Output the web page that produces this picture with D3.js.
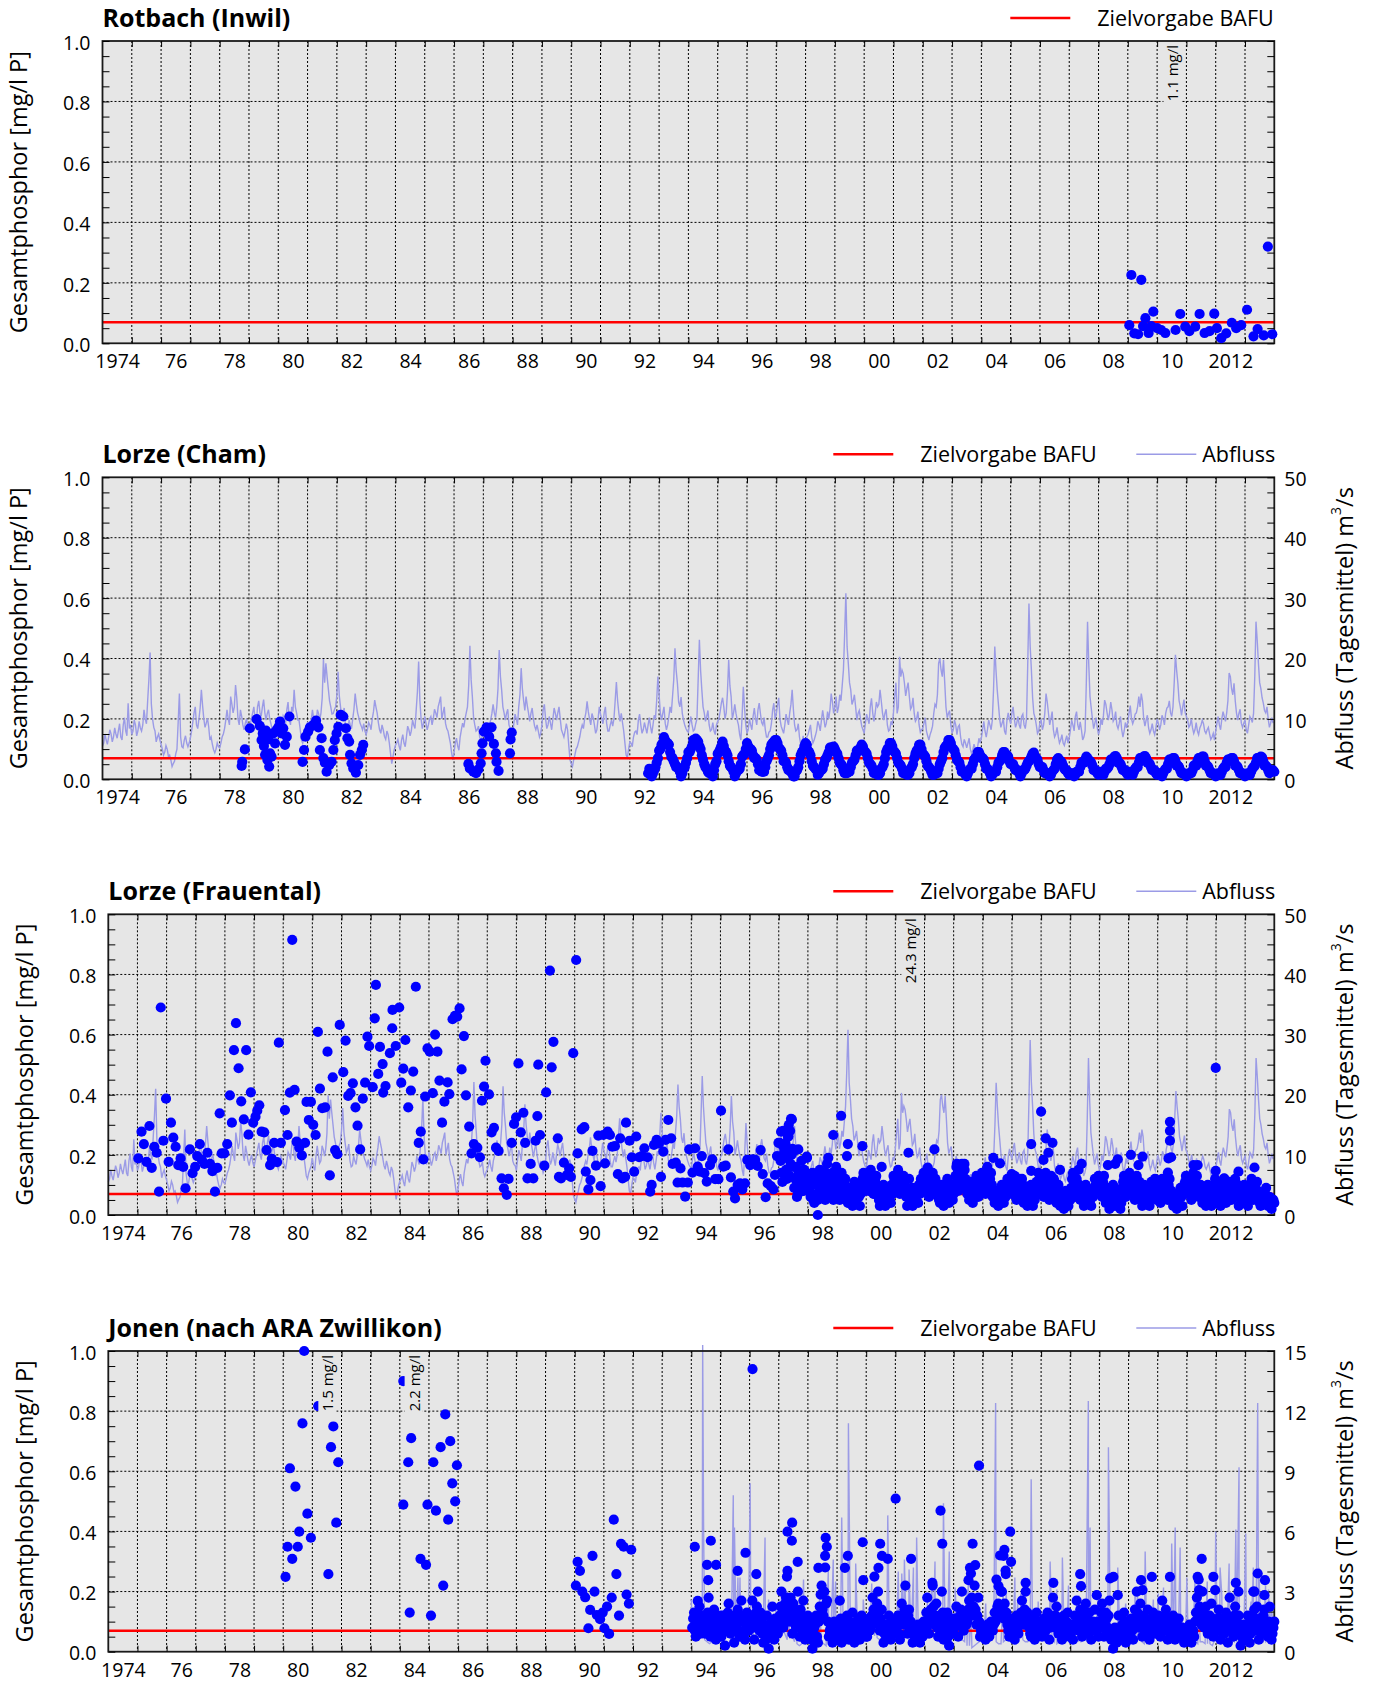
<!DOCTYPE html>
<html>
<head>
<meta charset="utf-8">
<script src="https://cdn.jsdelivr.net/npm/d3@7"></script>
<style>
    body { margin: 0; background: #fff; }
    svg { display: block; }
</style>
</head>
<body>
<svg id="chart" width="1375" height="1682"></svg>
<script>
// ---- achsen ----
var tickYears = [1974, 1976, 1978, 1980, 1982, 1984, 1986, 1988, 1990, 1992, 1994, 1996, 1998, 2000, 2002, 2004, 2006, 2008, 2010, 2012];
var tickLabels = ['1974', '76', '78', '80', '82', '84', '86', '88', '90', '92', '94', '96', '98', '00', '02', '04', '06', '08', '10', '2012'];
var phosTicks = [0, 0.2, 0.4, 0.6, 0.8, 1.0];
var lorzeFlowTicks = [0, 10, 20, 30, 40, 50];
var jonenFlowTicks = [0, 3, 6, 9, 12, 15];
var zielvorgabe = 0.07;

// ---- Rotbach (Inwil): [Jahr, mg/l P] ----
var rotbachP = [[2009.05, 0.06], [2009.12, 0.226], [2009.22, 0.033], [2009.35, 0.03], [2009.46, 0.21], [2009.52, 0.057], [2009.6, 0.083], [2009.71, 0.034], [2009.8, 0.057], [2009.87, 0.105], [2010.0, 0.05], [2010.14, 0.044], [2010.28, 0.034], [2010.63, 0.044], [2010.79, 0.097], [2010.96, 0.055], [2011.1, 0.04], [2011.3, 0.055], [2011.45, 0.097], [2011.62, 0.034], [2011.79, 0.04], [2011.95, 0.098], [2012.04, 0.05], [2012.19, 0.017], [2012.36, 0.033], [2012.55, 0.068], [2012.7, 0.05], [2012.87, 0.06], [2013.07, 0.111], [2013.29, 0.023], [2013.43, 0.047], [2013.64, 0.026], [2013.78, 0.32], [2013.93, 0.03]];
var rotbachOffscale = [[2010.55, '1.1 mg/l']];

// ---- Abfluss Lorze, Monatsmitte m3/s ab Jan 1974 ----
var lorzeFlow = [
    6, 6.5, 7, 7.5, 7, 7.5, 8, 7, 9, 8, 12.6, 9,
    8, 9, 8, 8.5, 9, 10, 13, 21, 10, 8, 7, 6.5,
    5, 4.5, 5, 4, 2.1, 3, 5, 14.2, 5.4, 6.5, 6, 6,
    8, 11, 9, 10, 14.8, 10, 9.3, 8.7, 7, 4.9, 5, 5.4,
    6, 7.5, 9.8, 10, 13.7, 11, 15.6, 10, 11.5, 9, 9.3, 8.7,
    9, 11, 10, 12, 11, 12, 11, 10.9, 10, 8.2, 8.5, 9.3,
    8.2, 9, 10, 11.5, 10, 12, 14.8, 11, 9.8, 6.5, 7, 8.2,
    8, 9.8, 10, 9, 10.9, 11, 19.9, 19.2, 15, 12, 10.9, 12,
    17.8, 12, 10.9, 9, 8.2, 9, 10, 14.2, 11, 9.3, 8.2, 8,
    8.2, 9, 10, 13.1, 11, 8.2, 9, 7.1, 8, 6, 2.6, 4.9,
    6, 5.5, 6.5, 6, 7, 8.2, 8, 9, 11.5, 19.5, 10, 9.3,
    9.3, 9, 10.4, 10, 11, 12, 13.7, 11, 9.3, 8, 6, 3.2,
    6, 5.5, 7, 9.3, 10, 12, 22.1, 13.7, 9, 8.2, 7, 7.1,
    8.2, 8, 9, 10.9, 11, 12, 21.4, 14.8, 11, 10.9, 9, 8.2,
    9.3, 10, 12, 18.4, 13, 13.7, 11, 10.9, 10, 8.2, 8, 7.6,
    11.5, 10, 9, 9.3, 10, 10.9, 11, 10, 7.6, 8, 8.2, 3.2,
    2.1, 4, 5.4, 7, 9, 10, 12.9, 10, 10.9, 9, 8.2, 12,
    10, 11, 9.3, 8, 9.8, 10, 16.1, 11, 10.9, 8, 4, 5,
    6, 7, 8, 9.8, 9, 8.2, 8.5, 9, 8.7, 9, 10, 17,
    11, 10.9, 9.3, 9, 12, 13.7, 21.7, 15.9, 12, 10.9, 9, 8,
    9.3, 9, 8.2, 10, 23.1, 14.8, 11, 10.4, 9, 8.2, 8, 9,
    10, 12.6, 12, 11, 19.8, 13.7, 11, 10.9, 9, 6.5, 15.3, 9,
    8.2, 9, 10.4, 10, 11.5, 10.9, 9, 8.2, 7, 8, 11.5, 10,
    12.3, 10, 8.2, 9, 9.8, 11, 14.8, 9, 8.2, 7, 6, 6,
    7, 8.2, 7, 6.5, 8, 9, 9.8, 10, 9.3, 10, 14.2, 10.9,
    13.7, 12, 13, 18.1, 30.8, 19.2, 14.8, 13, 12, 10.9, 10, 8.2,
    9.3, 10, 12, 11, 10.9, 12, 14.8, 11, 10.9, 9, 8.2, 9,
    13.7, 10.9, 20.3, 18.1, 15.9, 15, 13.7, 12, 10.9, 10, 9, 8.2,
    9.3, 8, 6.5, 8, 10.9, 12, 19.2, 18.1, 19.8, 12, 10.9, 9,
    8.2, 9, 8.7, 7, 5.4, 6, 6, 5, 4.9, 5, 5.4, 6,
    8.2, 8, 8.2, 9, 9.8, 22, 14.8, 10, 9.3, 8, 9.8, 10,
    10.9, 10, 9.3, 9, 10.4, 9, 10, 29.1, 18.1, 10.9, 9, 8,
    9.8, 9, 14.2, 10.9, 10, 8.2, 7.5, 7.1, 6.5, 6, 6.5, 6,
    8.2, 9, 10.4, 9, 9.5, 6.5, 8, 26.1, 13.7, 10, 9.3, 8.5,
    8.2, 9, 13.1, 11, 10.9, 11.5, 10, 9, 9.3, 8.2, 8, 8.5,
    10.9, 10, 9.8, 11, 13.7, 14.2, 10, 9.8, 8.5, 8.2, 8, 8.5,
    9.3, 9, 10, 10.9, 12, 11, 12, 20.6, 15.9, 12, 12, 11,
    9.8, 9, 8.5, 8.2, 8, 8.5, 9.8, 8, 8.2, 7.5, 7, 6.5,
    9.3, 9, 10, 10.4, 11, 17.6, 15, 15.9, 11, 10.9, 9.3, 9.3,
    8.2, 9, 10, 10.9, 26.1, 19.2, 15, 12.6, 11, 10, 9.3, 9.3
];
// Abfluss Lorze, Monatsanfang m3/s ab Jan 1974
var lorzeFlowMid = [
    5.5, 7.5, 5.8, 8.2, 6.2, 8.5, 6.8, 9.2, 6.5, 10.2, 7.2, 8.4,
    7.4, 9.8, 7.2, 9.6, 8.0, 11.5, 9.2, 16.5, 12.5, 8.6, 6.2, 7.5,
    5.8, 4.0, 5.6, 3.8, 3.2, 2.6, 4.2, 9.5, 7.0, 5.2, 7.2, 5.4,
    6.8, 9.5, 12.0, 8.4, 11.8, 12.2, 8.6, 10.1, 6.5, 5.8, 4.4, 6.0,
    5.2, 7.0, 8.4, 11.5, 9.0, 12.4, 12.0, 13.5, 9.0, 10.4, 8.2, 10.0,
    8.0, 10.0, 12.0, 9.2, 13.0, 10.4, 13.2, 9.8, 11.5, 9.2, 7.6, 9.8,
    8.8, 7.6, 10.5, 9.2, 12.8, 9.0, 11.2, 12.0, 9.8, 8.2, 6.0, 7.6,
    9.5, 7.4, 11.5, 8.6, 11.5, 9.8, 13.5, 16.0, 17.0, 13.0, 10.8, 11.5,
    14.0, 13.8, 10.4, 11.8, 8.0, 9.8, 8.4, 11.6, 12.4, 10.2, 8.8, 9.2,
    7.4, 9.4, 8.2, 11.2, 12.0, 9.4, 7.6, 8.2, 6.6, 7.4, 4.2, 3.8,
    5.6, 6.6, 4.8, 7.4, 5.4, 8.8, 7.2, 9.8, 8.4, 14.5, 13.0, 8.4,
    10.4, 8.2, 10.0, 9.0, 11.6, 10.2, 12.8, 10.0, 12.0, 8.4, 7.0, 4.4,
    4.4, 6.8, 4.8, 8.2, 8.6, 11.0, 15.5, 16.5, 10.2, 8.0, 8.8, 6.4,
    7.6, 9.2, 7.2, 9.8, 12.4, 10.2, 15.0, 17.0, 12.0, 9.8, 11.6, 8.4,
    7.4, 10.8, 9.0, 14.0, 15.0, 11.4, 12.2, 9.6, 11.8, 8.8, 9.0, 7.0,
    9.0, 12.4, 8.4, 10.4, 8.2, 11.8, 9.8, 12.0, 8.2, 7.0, 9.2, 5.6,
    2.6, 3.2, 5.0, 6.2, 8.2, 8.4, 11.0, 11.2, 9.0, 10.2, 7.6, 10.0,
    10.8, 9.2, 12.0, 8.0, 9.0, 8.8, 13.0, 13.0, 9.6, 9.4, 6.0, 3.6,
    6.2, 5.4, 7.8, 7.4, 10.8, 7.6, 9.4, 7.6, 10.2, 7.6, 10.6, 13.0,
    14.0, 9.8, 12.0, 8.2, 10.4, 11.0, 16.5, 18.0, 12.8, 13.6, 9.8, 8.4,
    7.8, 10.4, 8.0, 9.2, 16.5, 18.0, 12.0, 9.6, 11.4, 8.0, 9.4, 7.4,
    9.6, 11.2, 13.5, 10.0, 14.5, 15.5, 10.0, 12.4, 9.8, 7.4, 10.5, 11.8,
    7.6, 10.0, 8.2, 11.8, 9.0, 12.6, 9.4, 10.2, 7.0, 7.8, 9.2, 12.6,
    10.8, 13.5, 8.8, 7.6, 10.8, 9.0, 12.4, 11.6, 8.0, 9.2, 5.8, 7.2,
    5.6, 7.4, 9.0, 6.0, 7.2, 9.6, 8.0, 11.4, 8.6, 11.2, 11.6, 12.8,
    12.0, 11.0, 14.0, 15.5, 24.0, 22.0, 16.0, 12.4, 14.0, 9.8, 11.4, 8.8,
    7.6, 10.8, 9.2, 13.4, 9.6, 12.8, 12.4, 13.0, 9.8, 11.6, 8.0, 9.6,
    11.0, 16.0, 12.0, 17.0, 17.5, 13.8, 16.0, 11.6, 13.5, 9.6, 11.2, 7.8,
    8.4, 10.2, 7.2, 7.4, 8.8, 12.4, 14.0, 20.0, 17.0, 16.0, 10.2, 11.4,
    7.6, 9.8, 7.4, 9.0, 5.8, 6.6, 5.2, 6.8, 4.2, 5.8, 4.4, 6.8,
    6.8, 9.6, 7.0, 9.8, 8.2, 15.0, 18.0, 12.4, 8.6, 10.0, 7.4, 11.0,
    9.2, 12.0, 8.6, 10.4, 8.4, 10.8, 8.4, 19.0, 22.0, 13.5, 10.2, 7.6,
    9.4, 8.2, 11.0, 12.8, 9.0, 11.2, 7.0, 8.6, 6.0, 7.4, 5.6, 7.2,
    6.8, 9.8, 8.0, 11.2, 8.2, 8.2, 7.0, 16.0, 19.0, 11.8, 8.4, 10.2,
    7.4, 10.0, 10.5, 12.4, 9.8, 12.8, 9.6, 11.2, 8.4, 10.4, 7.0, 9.4,
    9.4, 12.2, 9.2, 10.8, 12.0, 12.0, 13.0, 8.8, 10.6, 7.6, 9.2, 7.4,
    10.0, 8.2, 10.6, 9.0, 11.8, 13.0, 10.4, 16.0, 18.0, 13.0, 10.6, 13.2,
    10.4, 8.6, 10.0, 7.6, 9.4, 7.4, 9.0, 9.2, 7.6, 8.6, 6.6, 7.6,
    8.0, 10.4, 8.2, 11.2, 9.6, 13.0, 17.0, 14.0, 13.0, 9.8, 11.6, 8.6,
    9.8, 7.6, 10.4, 9.4, 17.0, 23.0, 16.0, 13.5, 11.4, 12.0, 8.6, 10.2
];

// ---- Lorze (Cham) ----
var chamP = [[1978.75, 0.044], [1978.77, 0.058], [1978.86, 0.099], [1979.03, 0.169], [1979.26, 0.199], [1979.37, 0.177], [1979.43, 0.13], [1979.47, 0.152], [1979.51, 0.11], [1979.55, 0.081], [1979.58, 0.161], [1979.63, 0.064], [1979.66, 0.132], [1979.69, 0.042], [1979.72, 0.086], [1979.77, 0.075], [1979.83, 0.152], [1979.89, 0.119], [1979.94, 0.163], [1980.0, 0.172], [1980.06, 0.191], [1980.11, 0.152], [1980.17, 0.169], [1980.23, 0.114], [1980.29, 0.141], [1980.38, 0.208], [1980.83, 0.058], [1980.88, 0.097], [1980.93, 0.141], [1981.02, 0.158], [1981.08, 0.172], [1981.2, 0.18], [1981.29, 0.194], [1981.37, 0.172], [1981.42, 0.097], [1981.48, 0.136], [1981.54, 0.07], [1981.59, 0.055], [1981.65, 0.025], [1981.74, 0.047], [1981.82, 0.058], [1981.88, 0.097], [1981.93, 0.13], [1981.99, 0.152], [1982.05, 0.174], [1982.13, 0.213], [1982.22, 0.208], [1982.31, 0.169], [1982.36, 0.136], [1982.42, 0.125], [1982.45, 0.081], [1982.5, 0.053], [1982.56, 0.036], [1982.65, 0.022], [1982.73, 0.047], [1982.79, 0.081], [1982.85, 0.097], [1982.9, 0.114],
    [1986.49, 0.051], [1986.54, 0.036], [1986.66, 0.025], [1986.75, 0.02], [1986.83, 0.033], [1986.91, 0.053], [1986.94, 0.086], [1986.97, 0.119], [1987.02, 0.158], [1987.11, 0.172], [1987.2, 0.141], [1987.28, 0.172], [1987.36, 0.117], [1987.43, 0.086], [1987.45, 0.058], [1987.52, 0.028], [1987.91, 0.086], [1987.93, 0.132], [1987.97, 0.155]];
// erste Monatsprobe ab Aug 1992
var chamWave = [
    0.02, 0.015, 0.02, 0.04, 0.07,
    0.1, 0.12, 0.13, 0.12, 0.09, 0.07, 0.05, 0.04, 0.025, 0.02, 0.04, 0.07,
    0.09, 0.11, 0.125, 0.13, 0.11, 0.08, 0.05, 0.035, 0.02, 0.02, 0.03, 0.06,
    0.09, 0.11, 0.11, 0.09, 0.06, 0.04, 0.025, 0.02, 0.03, 0.05, 0.08, 0.1,
    0.11, 0.1, 0.08, 0.07, 0.05, 0.03, 0.025, 0.04, 0.07, 0.1, 0.12, 0.13,
    0.12, 0.1, 0.08, 0.06, 0.04, 0.03, 0.02, 0.01, 0.03, 0.06, 0.09, 0.11,
    0.114, 0.09, 0.06, 0.04, 0.03, 0.02, 0.03, 0.05, 0.07, 0.09, 0.105, 0.108,
    0.09, 0.07, 0.05, 0.03, 0.02, 0.025, 0.04, 0.06, 0.08, 0.095, 0.105, 0.108,
    0.09, 0.07, 0.05, 0.035, 0.02, 0.015, 0.02, 0.04, 0.07, 0.1, 0.12, 0.11,
    0.09, 0.07, 0.05, 0.035, 0.02, 0.015, 0.02, 0.04, 0.07, 0.095, 0.114, 0.1,
    0.08, 0.06, 0.04, 0.025, 0.015, 0.02, 0.035, 0.06, 0.09, 0.11, 0.13, 0.12,
    0.1, 0.08, 0.06, 0.04, 0.025, 0.015, 0.02, 0.035, 0.05, 0.07, 0.09, 0.08,
    0.07, 0.05, 0.035, 0.02, 0.015, 0.025, 0.04, 0.06, 0.08, 0.09, 0.08, 0.06,
    0.05, 0.04, 0.03, 0.02, 0.02, 0.03, 0.045, 0.06, 0.075, 0.088, 0.07, 0.05,
    0.04, 0.03, 0.02, 0.015, 0.015, 0.03, 0.05, 0.07, 0.06, 0.045, 0.03, 0.02,
    0.02, 0.015, 0.015, 0.025, 0.04, 0.055, 0.065, 0.07, 0.06, 0.045, 0.03, 0.02,
    0.02, 0.02, 0.025, 0.035, 0.05, 0.065, 0.075, 0.07, 0.055, 0.04, 0.03, 0.02,
    0.02, 0.02, 0.025, 0.04, 0.055, 0.07, 0.075, 0.07, 0.055, 0.04, 0.03, 0.02,
    0.02, 0.015, 0.02, 0.035, 0.05, 0.065, 0.07, 0.06, 0.045, 0.03, 0.02, 0.015,
    0.015, 0.02, 0.03, 0.045, 0.06, 0.07, 0.075, 0.06, 0.045, 0.03, 0.02, 0.015,
    0.015, 0.015, 0.025, 0.04, 0.055, 0.065, 0.07, 0.06, 0.045, 0.03, 0.02, 0.015,
    0.015, 0.015, 0.025, 0.04, 0.055, 0.07, 0.075, 0.06, 0.045, 0.03, 0.025, 0.03
];
// zweite Monatsprobe ab Aug 1992
var chamWave2 = [
    0.035, 0.01, 0.03, 0.055, 0.095,
    0.115, 0.14, 0.115, 0.115, 0.075, 0.06, 0.04, 0.035, 0.01, 0.035, 0.055, 0.09,
    0.1, 0.13, 0.135, 0.125, 0.1, 0.065, 0.04, 0.025, 0.03, 0.01, 0.05, 0.085,
    0.1, 0.125, 0.095, 0.08, 0.045, 0.035, 0.01, 0.03, 0.035, 0.075, 0.085, 0.12,
    0.095, 0.095, 0.07, 0.065, 0.03, 0.025, 0.025, 0.06, 0.08, 0.115, 0.125, 0.13,
    0.105, 0.095, 0.06, 0.055, 0.03, 0.025, 0.01, 0.025, 0.04, 0.08, 0.095, 0.12,
    0.095, 0.08, 0.045, 0.035, 0.015, 0.03, 0.035, 0.065, 0.08, 0.105, 0.105, 0.1,
    0.085, 0.055, 0.045, 0.02, 0.02, 0.025, 0.055, 0.065, 0.095, 0.095, 0.115, 0.095,
    0.085, 0.055, 0.045, 0.02, 0.02, 0.015, 0.035, 0.05, 0.09, 0.105, 0.12, 0.095,
    0.085, 0.055, 0.045, 0.02, 0.02, 0.015, 0.035, 0.05, 0.085, 0.1, 0.115, 0.085,
    0.075, 0.045, 0.035, 0.015, 0.02, 0.02, 0.05, 0.07, 0.105, 0.115, 0.13, 0.105,
    0.095, 0.065, 0.055, 0.025, 0.025, 0.01, 0.03, 0.035, 0.065, 0.075, 0.09, 0.07,
    0.065, 0.035, 0.03, 0.01, 0.025, 0.025, 0.055, 0.065, 0.09, 0.08, 0.075, 0.05,
    0.05, 0.03, 0.03, 0.01, 0.03, 0.035, 0.055, 0.065, 0.085, 0.075, 0.065, 0.04,
    0.04, 0.02, 0.02, 0.01, 0.025, 0.035, 0.065, 0.063, 0.055, 0.035, 0.03, 0.015,
    0.02, 0.01, 0.025, 0.025, 0.055, 0.055, 0.075, 0.06, 0.055, 0.03, 0.03, 0.015,
    0.025, 0.015, 0.035, 0.04, 0.065, 0.065, 0.077, 0.055, 0.05, 0.03, 0.03, 0.015,
    0.025, 0.015, 0.035, 0.04, 0.07, 0.067, 0.077, 0.055, 0.05, 0.03, 0.03, 0.015,
    0.02, 0.01, 0.03, 0.035, 0.065, 0.063, 0.07, 0.045, 0.04, 0.02, 0.02, 0.01,
    0.02, 0.02, 0.045, 0.045, 0.07, 0.067, 0.075, 0.045, 0.04, 0.02, 0.02, 0.01,
    0.02, 0.015, 0.035, 0.04, 0.065, 0.065, 0.07, 0.045, 0.04, 0.02, 0.02, 0.01,
    0.02, 0.015, 0.035, 0.045, 0.07, 0.067, 0.073, 0.045, 0.04, 0.02, 0.03, 0.025
];

// ---- Lorze (Frauental) ----
var frauentalP = [[1975.03, 0.188], [1975.14, 0.277], [1975.22, 0.236], [1975.31, 0.177], [1975.41, 0.296], [1975.49, 0.157], [1975.58, 0.227], [1975.66, 0.207], [1975.74, 0.078], [1975.8, 0.69], [1975.89, 0.247], [1975.98, 0.387], [1976.07, 0.177], [1976.15, 0.307], [1976.23, 0.257], [1976.31, 0.227], [1976.4, 0.166], [1976.48, 0.188], [1976.57, 0.16], [1976.65, 0.089], [1976.8, 0.218], [1976.89, 0.139], [1976.98, 0.16], [1977.05, 0.196], [1977.14, 0.236], [1977.21, 0.183], [1977.3, 0.17], [1977.4, 0.207], [1977.49, 0.17], [1977.57, 0.146], [1977.66, 0.078], [1977.74, 0.157], [1977.82, 0.338], [1977.89, 0.205], [1977.98, 0.205], [1978.08, 0.236], [1978.17, 0.398], [1978.24, 0.307], [1978.31, 0.548], [1978.38, 0.638], [1978.47, 0.488], [1978.56, 0.378], [1978.65, 0.318], [1978.73, 0.548], [1978.81, 0.267], [1978.89, 0.408], [1978.97, 0.307], [1979.05, 0.327], [1979.11, 0.347], [1979.18, 0.365], [1979.26, 0.277], [1979.35, 0.275], [1979.43, 0.216], [1979.55, 0.166], [1979.61, 0.187], [1979.69, 0.24], [1979.79, 0.176], [1979.85, 0.573], [1979.92, 0.24], [1980.06, 0.349], [1980.15, 0.266], [1980.23, 0.407], [1980.31, 0.915], [1980.39, 0.416], [1980.46, 0.244], [1980.55, 0.224], [1980.64, 0.198], [1980.75, 0.24], [1980.8, 0.376], [1980.88, 0.316], [1980.95, 0.376], [1981.03, 0.3], [1981.11, 0.266], [1981.19, 0.609], [1981.26, 0.42], [1981.34, 0.355], [1981.44, 0.358], [1981.52, 0.543], [1981.6, 0.132], [1981.7, 0.458], [1981.78, 0.216], [1981.86, 0.202], [1981.94, 0.632], [1982.06, 0.475], [1982.14, 0.58], [1982.23, 0.396], [1982.31, 0.405], [1982.39, 0.438], [1982.48, 0.358], [1982.55, 0.297], [1982.64, 0.218], [1982.73, 0.387], [1982.81, 0.44], [1982.89, 0.593], [1982.95, 0.562], [1983.07, 0.425], [1983.14, 0.654], [1983.18, 0.765], [1983.26, 0.469], [1983.32, 0.559], [1983.41, 0.502], [1983.43, 0.407], [1983.51, 0.429], [1983.66, 0.538], [1983.74, 0.621], [1983.75, 0.682], [1983.86, 0.562], [1983.98, 0.69], [1984.05, 0.44], [1984.12, 0.487], [1984.19, 0.582], [1984.29, 0.358], [1984.38, 0.414], [1984.46, 0.477], [1984.55, 0.759], [1984.65, 0.24], [1984.72, 0.277], [1984.81, 0.185], [1984.87, 0.394], [1984.95, 0.554], [1985.03, 0.543], [1985.13, 0.405], [1985.21, 0.6], [1985.29, 0.543], [1985.36, 0.447], [1985.45, 0.307], [1985.53, 0.377], [1985.64, 0.441], [1985.7, 0.402], [1985.81, 0.651], [1985.89, 0.662], [1985.97, 0.66], [1986.05, 0.687], [1986.12, 0.484], [1986.2, 0.595], [1986.27, 0.398], [1986.38, 0.294], [1986.46, 0.205], [1986.54, 0.236], [1986.66, 0.224], [1986.75, 0.192], [1986.82, 0.38], [1986.89, 0.427], [1986.94, 0.513], [1987.06, 0.401], [1987.15, 0.275], [1987.23, 0.29], [1987.3, 0.224], [1987.39, 0.213], [1987.49, 0.122], [1987.57, 0.089], [1987.67, 0.067], [1987.73, 0.12], [1987.84, 0.24], [1987.92, 0.303], [1987.99, 0.325], [1988.07, 0.504], [1988.15, 0.275], [1988.24, 0.34], [1988.3, 0.24], [1988.38, 0.122], [1988.49, 0.17], [1988.58, 0.122], [1988.66, 0.247], [1988.72, 0.329], [1988.75, 0.5], [1988.81, 0.266],
    [1988.96, 0.164], [1989.02, 0.408], [1989.15, 0.813], [1989.21, 0.491], [1989.27, 0.576], [1989.42, 0.255], [1989.46, 0.127], [1989.53, 0.122], [1989.63, 0.174], [1989.73, 0.133], [1989.81, 0.155], [1989.87, 0.127], [1989.95, 0.538], [1990.05, 0.848], [1990.1, 0.205], [1990.24, 0.285], [1990.33, 0.292], [1990.38, 0.144], [1990.47, 0.085], [1990.54, 0.116], [1990.61, 0.213], [1990.73, 0.164], [1990.81, 0.264], [1990.89, 0.096], [1990.98, 0.266], [1991.04, 0.172], [1991.13, 0.277], [1991.21, 0.266], [1991.29, 0.227], [1991.38, 0.229], [1991.48, 0.136], [1991.56, 0.255], [1991.64, 0.122], [1991.73, 0.127], [1991.76, 0.307], [1991.88, 0.247], [1991.96, 0.192], [1992.04, 0.144], [1992.11, 0.261], [1992.21, 0.192], [1992.3, 0.196], [1992.39, 0.222], [1992.5, 0.192], [1992.59, 0.078], [1992.64, 0.1], [1992.72, 0.233], [1992.81, 0.25], [1992.89, 0.238], [1992.96, 0.127], [1993.04, 0.211], [1993.12, 0.25], [1993.21, 0.316], [1993.31, 0.255], [1993.36, 0.17], [1993.47, 0.174], [1993.53, 0.108], [1993.63, 0.155], [1993.7, 0.108], [1993.79, 0.061], [1993.88, 0.108], [1993.93, 0.218], [1994.04, 0.141], [1994.13, 0.222], [1994.22, 0.161], [1994.3, 0.144], [1994.36, 0.196], [1994.45, 0.139], [1994.53, 0.111], [1994.64, 0.166], [1994.72, 0.185], [1994.82, 0.119], [1994.93, 0.119], [1995.02, 0.347], [1995.1, 0.161], [1995.18, 0.164], [1995.27, 0.218], [1995.36, 0.125], [1995.44, 0.078], [1995.5, 0.055], [1995.59, 0.1], [1995.67, 0.105], [1995.75, 0.085], [1995.84, 0.105], [1995.92, 0.183], [1996.02, 0.166], [1996.1, 0.185], [1996.19, 0.183], [1996.28, 0.163], [1996.38, 0.216], [1996.45, 0.136], [1996.55, 0.059], [1996.62, 0.105], [1996.73, 0.096], [1996.82, 0.085], [1996.87, 0.133], [1996.94, 0.196], [1996.99, 0.24]];
// dichte Proben ab 1997, 16 pro Jahr (zwei Reihen, versetzt)
var frauentalDense = [
    0.24, 0.14, 0.28, 0.19, 0.12, 0.30, 0.17, 0.22, 0.09, 0.16, 0.07, 0.13, 0.18, 0.08, 0.12, 0.19,
    0.12, 0.06, 0.14, 0.04, 0.10, 0.05, 0.15, 0.07, 0.12, 0.05, 0.17, 0.09, 0.06, 0.14, 0.08, 0.16,
    0.10, 0.05, 0.14, 0.07, 0.12, 0.06, 0.04, 0.09, 0.03, 0.11, 0.05, 0.08, 0.03, 0.10, 0.14, 0.08,
    0.12, 0.08, 0.15, 0.10, 0.07, 0.13, 0.09, 0.03, 0.06, 0.10, 0.03, 0.05, 0.08, 0.04, 0.07, 0.12,
    0.09, 0.15, 0.07, 0.11, 0.13, 0.08, 0.03, 0.12, 0.05, 0.03, 0.09, 0.06, 0.04, 0.07, 0.11, 0.14,
    0.08, 0.13, 0.06, 0.11, 0.14, 0.07, 0.10, 0.06, 0.04, 0.10, 0.03, 0.07, 0.12, 0.04, 0.08, 0.05,
    0.10, 0.16, 0.08, 0.13, 0.17, 0.09, 0.12, 0.07, 0.05, 0.11, 0.04, 0.08, 0.13, 0.06, 0.10, 0.14,
    0.12, 0.07, 0.16, 0.09, 0.14, 0.06, 0.04, 0.08, 0.03, 0.07, 0.10, 0.04, 0.06, 0.12, 0.08, 0.11,
    0.07, 0.13, 0.05, 0.10, 0.08, 0.12, 0.04, 0.09, 0.03, 0.06, 0.10, 0.03, 0.05, 0.11, 0.14, 0.07,
    0.12, 0.06, 0.14, 0.09, 0.05, 0.13, 0.08, 0.11, 0.04, 0.10, 0.03, 0.06, 0.02, 0.08, 0.04, 0.07,
    0.09, 0.14, 0.06, 0.12, 0.15, 0.05, 0.08, 0.03, 0.10, 0.04, 0.07, 0.03, 0.06, 0.12, 0.08, 0.13,
    0.10, 0.06, 0.13, 0.04, 0.09, 0.02, 0.07, 0.10, 0.03, 0.08, 0.05, 0.02, 0.09, 0.13, 0.06, 0.11,
    0.14, 0.07, 0.11, 0.05, 0.13, 0.09, 0.06, 0.03, 0.10, 0.04, 0.08, 0.03, 0.11, 0.06, 0.12, 0.05,
    0.09, 0.04, 0.12, 0.07, 0.10, 0.05, 0.12, 0.08, 0.03, 0.07, 0.02, 0.05, 0.09, 0.03, 0.10, 0.13,
    0.07, 0.12, 0.05, 0.14, 0.09, 0.13, 0.06, 0.10, 0.04, 0.08, 0.03, 0.10, 0.05, 0.03, 0.09, 0.12,
    0.05, 0.10, 0.03, 0.08, 0.12, 0.04, 0.07, 0.11, 0.05, 0.09, 0.12, 0.06, 0.03, 0.08, 0.04, 0.10,
    0.06, 0.03, 0.10, 0.12, 0.05, 0.09, 0.11, 0.06, 0.03, 0.07, 0.04, 0.09, 0.03, 0.06, 0.02, 0.05
];
var frauentalDense2 = [
    0.18, 0.11, 0.21, 0.15, 0.26, 0.13, 0.20, 0.16, 0.12, 0.06, 0.14, 0.10, 0.08, 0.15, 0.10, 0.13,
    0.08, 0.10, 0.05, 0.12, 0.07, 0.13, 0.09, 0.11, 0.08, 0.14, 0.07, 0.12, 0.11, 0.05, 0.12, 0.10,
    0.07, 0.12, 0.09, 0.11, 0.08, 0.04, 0.07, 0.06, 0.08, 0.05, 0.09, 0.06, 0.07, 0.12, 0.09, 0.11,
    0.09, 0.13, 0.11, 0.07, 0.12, 0.10, 0.05, 0.07, 0.04, 0.08, 0.06, 0.09, 0.05, 0.10, 0.13, 0.09,
    0.12, 0.10, 0.13, 0.09, 0.10, 0.06, 0.08, 0.05, 0.09, 0.07, 0.05, 0.08, 0.10, 0.12, 0.09, 0.10,
    0.11, 0.09, 0.12, 0.08, 0.10, 0.12, 0.08, 0.05, 0.07, 0.06, 0.09, 0.05, 0.08, 0.06, 0.10, 0.07,
    0.13, 0.11, 0.14, 0.10, 0.12, 0.15, 0.10, 0.09, 0.08, 0.07, 0.10, 0.06, 0.09, 0.11, 0.07, 0.12,
    0.09, 0.13, 0.11, 0.12, 0.10, 0.08, 0.06, 0.05, 0.07, 0.05, 0.08, 0.06, 0.09, 0.08, 0.10, 0.07,
    0.10, 0.09, 0.08, 0.12, 0.06, 0.10, 0.07, 0.06, 0.05, 0.08, 0.04, 0.07, 0.09, 0.08, 0.10, 0.12,
    0.09, 0.10, 0.07, 0.11, 0.10, 0.08, 0.12, 0.06, 0.08, 0.06, 0.05, 0.04, 0.06, 0.05, 0.03, 0.05,
    0.12, 0.10, 0.11, 0.08, 0.10, 0.07, 0.05, 0.06, 0.07, 0.06, 0.05, 0.08, 0.09, 0.10, 0.11, 0.09,
    0.08, 0.11, 0.09, 0.07, 0.06, 0.05, 0.04, 0.06, 0.07, 0.05, 0.08, 0.04, 0.11, 0.10, 0.09, 0.08,
    0.10, 0.09, 0.12, 0.08, 0.10, 0.11, 0.08, 0.05, 0.07, 0.06, 0.05, 0.07, 0.08, 0.09, 0.08, 0.10,
    0.07, 0.10, 0.08, 0.09, 0.06, 0.10, 0.07, 0.05, 0.06, 0.04, 0.05, 0.07, 0.06, 0.08, 0.11, 0.09,
    0.10, 0.08, 0.11, 0.09, 0.07, 0.10, 0.08, 0.06, 0.07, 0.05, 0.07, 0.06, 0.08, 0.06, 0.07, 0.08,
    0.08, 0.07, 0.06, 0.10, 0.08, 0.09, 0.05, 0.08, 0.10, 0.07, 0.08, 0.10, 0.06, 0.05, 0.07, 0.06,
    0.08, 0.06, 0.07, 0.08, 0.09, 0.07, 0.08, 0.04, 0.06, 0.05, 0.07, 0.06, 0.05, 0.04, 0.05, 0.04
];
var frauentalPeaks = [[1997.08, 0.277], [1997.16, 0.227], [1997.23, 0.238], [1997.29, 0.196], [1997.33, 0.261], [1997.39, 0.28], [1997.45, 0.318], [1997.42, 0.32], [1997.5, 0.211], [1997.67, 0.218], [1997.96, 0.194], [1998.34, 0.0], [1998.7, 0.19], [1998.87, 0.266], [1999.14, 0.33], [1999.37, 0.236], [1999.34, 0.196], [1999.87, 0.229], [2000.53, 0.16], [2001.45, 0.207], [2002.11, 0.158], [2002.34, 0.218], [2003.11, 0.17], [2003.37, 0.17], [2004.36, 0.19], [2004.59, 0.172], [2004.99, 0.136], [2005.66, 0.236], [2005.66, 0.147], [2006.0, 0.344], [2006.16, 0.255], [2006.39, 0.24], [2006.25, 0.207], [2006.08, 0.183], [2006.65, 0.15], [2007.39, 0.17], [2008.29, 0.166], [2008.63, 0.185], [2008.54, 0.17], [2009.08, 0.2], [2009.34, 0.166], [2009.48, 0.194], [2009.91, 0.116], [2010.42, 0.31], [2010.42, 0.28], [2010.42, 0.247], [2010.46, 0.192], [2010.37, 0.188], [2010.35, 0.141], [2011.23, 0.166], [2011.37, 0.166], [2011.99, 0.489], [2011.99, 0.147], [2012.28, 0.122], [2012.77, 0.144], [2013.32, 0.158]];
var frauentalOffscale = [[2001.54, '24.3 mg/l']];

// ---- Jonen (nach ARA Zwillikon) ----
var jonenP = [[1980.08, 0.249], [1980.15, 0.349], [1980.23, 0.61], [1980.31, 0.309], [1980.42, 0.549], [1980.5, 0.349], [1980.55, 0.399], [1980.66, 0.759], [1980.72, 1.0], [1980.83, 0.459], [1980.95, 0.379], [1981.2, 0.817], [1981.55, 0.258], [1981.64, 0.68], [1981.72, 0.749], [1981.82, 0.429], [1981.89, 0.63],
    [1984.12, 0.9], [1984.12, 0.489], [1984.29, 0.63], [1984.34, 0.13], [1984.39, 0.71], [1984.71, 0.309], [1984.9, 0.289], [1984.95, 0.489], [1985.07, 0.12], [1985.15, 0.63], [1985.24, 0.469], [1985.4, 0.68], [1985.49, 0.22], [1985.56, 0.789], [1985.66, 0.439], [1985.73, 0.7], [1985.8, 0.56], [1985.9, 0.5], [1985.96, 0.62],
    [1990.04, 0.22], [1990.1, 0.299], [1990.18, 0.269], [1990.26, 0.2], [1990.36, 0.181], [1990.47, 0.078], [1990.53, 0.139], [1990.61, 0.319], [1990.68, 0.2], [1990.76, 0.122], [1990.87, 0.108], [1990.96, 0.13], [1991.02, 0.078], [1991.11, 0.15], [1991.18, 0.059], [1991.27, 0.18], [1991.34, 0.439], [1991.43, 0.258], [1991.52, 0.12], [1991.59, 0.359], [1991.68, 0.349], [1991.78, 0.19], [1991.86, 0.16], [1991.94, 0.339]];
// dichte Proben ab 1994, 16 pro Jahr (zwei Reihen, versetzt)
var jonenDense = [
    0.08, 0.13, 0.05, 0.10, 0.15, 0.07, 0.12, 0.06, 0.10, 0.18, 0.05, 0.09, 0.14, 0.04, 0.11, 0.08,
    0.05, 0.12, 0.02, 0.09, 0.16, 0.06, 0.11, 0.03, 0.08, 0.14, 0.05, 0.17, 0.10, 0.04, 0.13, 0.07,
    0.09, 0.17, 0.04, 0.13, 0.20, 0.07, 0.11, 0.03, 0.06, 0.12, 0.01, 0.08, 0.15, 0.04, 0.10, 0.06,
    0.12, 0.20, 0.08, 0.16, 0.25, 0.10, 0.18, 0.06, 0.14, 0.08, 0.20, 0.05, 0.12, 0.17, 0.04, 0.10,
    0.05, 0.10, 0.01, 0.08, 0.12, 0.03, 0.15, 0.22, 0.12, 0.28, 0.17, 0.05, 0.08, 0.03, 0.10, 0.04,
    0.06, 0.17, 0.03, 0.09, 0.05, 0.12, 0.04, 0.08, 0.13, 0.03, 0.07, 0.11, 0.04, 0.12, 0.06, 0.09,
    0.05, 0.11, 0.08, 0.18, 0.25, 0.12, 0.20, 0.07, 0.14, 0.03, 0.09, 0.05, 0.12, 0.04, 0.08, 0.10,
    0.07, 0.12, 0.04, 0.16, 0.09, 0.22, 0.06, 0.14, 0.10, 0.03, 0.07, 0.05, 0.09, 0.03, 0.06, 0.10,
    0.10, 0.18, 0.06, 0.14, 0.22, 0.09, 0.16, 0.05, 0.12, 0.20, 0.04, 0.09, 0.13, 0.02, 0.07, 0.11,
    0.08, 0.15, 0.05, 0.12, 0.20, 0.07, 0.13, 0.10, 0.17, 0.26, 0.12, 0.22, 0.09, 0.18, 0.05, 0.08,
    0.06, 0.04, 0.09, 0.05, 0.10, 0.07, 0.13, 0.24, 0.16, 0.32, 0.20, 0.11, 0.27, 0.09, 0.05, 0.11,
    0.08, 0.04, 0.12, 0.06, 0.10, 0.17, 0.09, 0.20, 0.13, 0.08, 0.05, 0.11, 0.04, 0.13, 0.07, 0.09,
    0.05, 0.11, 0.07, 0.13, 0.04, 0.12, 0.18, 0.08, 0.15, 0.06, 0.10, 0.04, 0.12, 0.07, 0.13, 0.05,
    0.09, 0.04, 0.12, 0.17, 0.07, 0.14, 0.05, 0.11, 0.16, 0.06, 0.13, 0.04, 0.10, 0.14, 0.07, 0.05,
    0.10, 0.16, 0.05, 0.13, 0.08, 0.17, 0.04, 0.01, 0.08, 0.03, 0.12, 0.05, 0.09, 0.13, 0.03, 0.07,
    0.05, 0.11, 0.04, 0.14, 0.20, 0.08, 0.16, 0.05, 0.12, 0.06, 0.14, 0.04, 0.09, 0.13, 0.06, 0.10,
    0.12, 0.05, 0.17, 0.08, 0.14, 0.04, 0.10, 0.06, 0.12, 0.04, 0.09, 0.11, 0.05, 0.08, 0.03, 0.07,
    0.04, 0.09, 0.03, 0.07, 0.10, 0.18, 0.24, 0.12, 0.20, 0.08, 0.15, 0.06, 0.12, 0.16, 0.05, 0.10,
    0.08, 0.14, 0.04, 0.11, 0.06, 0.13, 0.03, 0.18, 0.10, 0.05, 0.15, 0.08, 0.12, 0.02, 0.07, 0.04,
    0.06, 0.12, 0.03, 0.09, 0.20, 0.07, 0.15, 0.04, 0.11, 0.06, 0.14, 0.09, 0.05, 0.15, 0.04, 0.08
];
var jonenDense2 = [
    0.11, 0.07, 0.09, 0.12, 0.06, 0.10, 0.08, 0.11, 0.13, 0.08, 0.12, 0.07, 0.10, 0.09, 0.06, 0.12,
    0.09, 0.07, 0.10, 0.13, 0.08, 0.12, 0.07, 0.09, 0.11, 0.07, 0.10, 0.12, 0.06, 0.09, 0.08, 0.11,
    0.12, 0.08, 0.10, 0.15, 0.09, 0.13, 0.06, 0.09, 0.04, 0.08, 0.05, 0.10, 0.07, 0.11, 0.08, 0.09,
    0.15, 0.10, 0.13, 0.18, 0.12, 0.14, 0.11, 0.16, 0.09, 0.12, 0.10, 0.14, 0.08, 0.10, 0.07, 0.12,
    0.07, 0.04, 0.06, 0.09, 0.05, 0.10, 0.19, 0.14, 0.20, 0.16, 0.10, 0.07, 0.06, 0.08, 0.06, 0.07,
    0.08, 0.11, 0.07, 0.06, 0.09, 0.07, 0.10, 0.06, 0.09, 0.08, 0.05, 0.09, 0.08, 0.07, 0.10, 0.05,
    0.08, 0.07, 0.12, 0.14, 0.10, 0.16, 0.09, 0.11, 0.08, 0.06, 0.07, 0.09, 0.06, 0.09, 0.06, 0.07,
    0.09, 0.06, 0.10, 0.12, 0.14, 0.10, 0.12, 0.08, 0.06, 0.08, 0.05, 0.07, 0.06, 0.08, 0.05, 0.08,
    0.13, 0.09, 0.12, 0.10, 0.15, 0.12, 0.08, 0.11, 0.09, 0.13, 0.07, 0.11, 0.05, 0.09, 0.08, 0.06,
    0.11, 0.09, 0.10, 0.14, 0.11, 0.10, 0.09, 0.14, 0.12, 0.18, 0.15, 0.14, 0.12, 0.10, 0.07, 0.06,
    0.05, 0.07, 0.06, 0.08, 0.07, 0.09, 0.10, 0.15, 0.12, 0.20, 0.14, 0.16, 0.13, 0.07, 0.08, 0.07,
    0.06, 0.09, 0.07, 0.09, 0.13, 0.12, 0.14, 0.11, 0.10, 0.06, 0.08, 0.07, 0.09, 0.08, 0.10, 0.06,
    0.08, 0.07, 0.10, 0.09, 0.08, 0.09, 0.11, 0.12, 0.10, 0.08, 0.06, 0.08, 0.09, 0.10, 0.08, 0.09,
    0.07, 0.08, 0.09, 0.10, 0.12, 0.09, 0.08, 0.13, 0.09, 0.10, 0.08, 0.07, 0.08, 0.09, 0.10, 0.08,
    0.13, 0.08, 0.10, 0.11, 0.12, 0.07, 0.06, 0.04, 0.05, 0.07, 0.06, 0.08, 0.07, 0.10, 0.08, 0.09,
    0.08, 0.07, 0.09, 0.11, 0.13, 0.10, 0.09, 0.11, 0.08, 0.10, 0.07, 0.09, 0.11, 0.07, 0.08, 0.07,
    0.08, 0.10, 0.09, 0.12, 0.07, 0.11, 0.08, 0.09, 0.07, 0.08, 0.06, 0.07, 0.08, 0.05, 0.06, 0.05,
    0.06, 0.05, 0.07, 0.05, 0.13, 0.11, 0.15, 0.09, 0.13, 0.11, 0.09, 0.10, 0.08, 0.11, 0.09, 0.07,
    0.11, 0.09, 0.07, 0.08, 0.10, 0.09, 0.08, 0.11, 0.07, 0.12, 0.10, 0.06, 0.09, 0.05, 0.09, 0.06,
    0.09, 0.08, 0.06, 0.12, 0.14, 0.10, 0.09, 0.11, 0.08, 0.12, 0.10, 0.07, 0.10, 0.08, 0.06, 0.10
];
var jonenPeaks = [[1994.12, 0.349], [1994.22, 0.169], [1994.54, 0.289], [1994.67, 0.369], [1994.58, 0.238], [1994.85, 0.289], [1995.59, 0.269], [1995.86, 0.329], [1996.1, 0.94], [1996.23, 0.258], [1997.3, 0.399], [1997.46, 0.429], [1997.45, 0.369], [1997.65, 0.299], [1997.3, 0.269], [1998.61, 0.379], [1998.65, 0.349], [1998.59, 0.319], [1998.36, 0.279], [1999.27, 0.279], [1999.37, 0.319], [1999.88, 0.364], [1999.9, 0.238], [2000.48, 0.359], [2000.54, 0.319], [2000.74, 0.309], [2000.42, 0.279], [2001.01, 0.509], [2001.54, 0.309], [2002.55, 0.469], [2002.61, 0.359], [2002.27, 0.229], [2003.65, 0.359], [2003.56, 0.279], [2003.74, 0.288], [2003.87, 0.619], [2003.51, 0.238], [2004.94, 0.399], [2004.74, 0.339], [2004.71, 0.319], [2004.79, 0.258], [2004.97, 0.299], [2004.54, 0.218], [2005.47, 0.229], [2006.42, 0.229], [2007.34, 0.258], [2007.37, 0.218], [2007.91, 0.188], [2008.37, 0.244], [2008.48, 0.249], [2008.63, 0.188], [2009.43, 0.238], [2009.48, 0.205], [2009.8, 0.249], [2010.42, 0.249], [2011.37, 0.249], [2011.51, 0.309], [2011.42, 0.205], [2011.91, 0.249], [2011.97, 0.205], [2012.68, 0.229], [2012.77, 0.2], [2013.32, 0.2], [2013.43, 0.26], [2013.68, 0.238], [2013.66, 0.188]];
var jonenOffscale = [[1981.54, '1.5 mg/l'], [1984.5, '2.2 mg/l']];
// Abfluss Jonen: Monatswerte ab Jan 1994 und einzelne Hochwasserspitzen
var jonenFlowBase = [
    0.9, 1.1, 1.2, 0.8, 0.7, 0.6, 0.5, 0.4, 0.5, 0.7, 0.9, 1.0,
    1.2, 1.4, 1.0, 0.8, 0.7, 0.5, 0.4, 0.5, 0.6, 0.5, 0.8, 1.1,
    0.9, 0.8, 0.7, 0.6, 0.8, 0.5, 0.4, 0.4, 0.5, 0.6, 0.9, 0.8,
    0.7, 1.0, 0.9, 0.6, 0.7, 0.8, 0.5, 0.4, 0.3, 0.4, 0.6, 0.9,
    0.8, 0.6, 0.7, 0.9, 0.6, 0.5, 0.4, 0.3, 0.5, 0.8, 1.0, 0.9,
    1.0, 1.3, 1.2, 1.1, 0.9, 0.7, 0.6, 0.5, 0.6, 0.7, 0.8, 1.2,
    0.9, 1.0, 1.1, 0.8, 0.7, 0.6, 0.7, 0.5, 0.6, 0.8, 1.1, 0.9,
    1.1, 0.9, 1.3, 0.9, 0.8, 0.6, 0.5, 0.5, 0.7, 0.6, 0.7, 0.8,
    0.8, 1.0, 0.9, 0.8, 0.7, 0.6, 0.7, 0.8, 0.6, 0.9, 1.2, 1.0,
    0.9, 0.8, 0.7, 0.6, 0.5, 0.3, 0.3, 0.2, 0.3, 0.4, 0.5, 0.7,
    0.8, 0.7, 0.8, 0.6, 0.7, 0.5, 0.4, 0.4, 0.5, 0.6, 0.7, 0.8,
    0.7, 0.6, 0.8, 0.7, 0.6, 0.5, 0.5, 0.6, 0.4, 0.4, 0.5, 0.7,
    0.6, 0.7, 1.0, 0.9, 0.7, 0.5, 0.4, 0.5, 0.5, 0.6, 0.6, 0.7,
    0.8, 0.7, 0.9, 0.5, 0.5, 0.6, 0.7, 0.8, 0.6, 0.5, 0.6, 0.8,
    0.9, 0.7, 1.0, 0.8, 0.7, 0.6, 0.5, 0.6, 0.5, 0.6, 0.7, 0.8,
    0.7, 0.9, 1.0, 0.8, 0.7, 0.5, 0.4, 0.4, 0.4, 0.5, 0.7, 0.9,
    0.8, 0.9, 1.0, 0.8, 0.7, 0.6, 0.5, 0.6, 0.6, 0.6, 0.8, 0.9,
    0.8, 0.6, 0.6, 0.5, 0.4, 0.5, 0.5, 0.4, 0.4, 0.4, 0.3, 0.6,
    0.9, 0.7, 0.8, 0.9, 0.7, 0.6, 0.6, 0.5, 0.5, 0.7, 0.8, 1.0,
    0.9, 1.0, 0.9, 1.1, 1.0, 0.8, 0.6, 0.5, 0.5, 0.6, 0.7, 0.8
];
var jonenFlowSpikes = [[1994.0, 2.6], [1994.2, 2.5], [1994.39, 15.3], [1994.42, 6.5], [1994.8, 2.2], [1995.2, 2.0], [1995.44, 7.8], [1995.48, 6.2], [1995.6, 3.7], [1995.67, 3.7], [1996.02, 8.4], [1996.19, 3.1], [1996.3, 2.5], [1996.53, 5.7], [1996.65, 2.6], [1996.9, 2.2], [1997.1, 3.2], [1997.3, 3.0], [1997.6, 2.4], [1997.85, 3.6], [1998.4, 2.8], [1998.7, 4.1], [1998.87, 4.6], [1998.95, 3.5], [1999.16, 6.7], [1999.39, 11.4], [1999.64, 4.4], [1999.9, 2.6], [2000.19, 3.4], [2000.3, 3.0], [2000.74, 6.8], [2001.1, 4.0], [2001.22, 3.9], [2001.31, 4.6], [2001.47, 4.1], [2001.62, 4.2], [2001.73, 5.7], [2002.1, 2.5], [2002.25, 3.7], [2002.36, 4.5], [2002.65, 7.4], [2002.85, 5.0], [2003.05, 3.2], [2003.2, 2.2], [2003.45, 3.1], [2003.5, 3.4], [2003.6, 2.0], [2004.1, 2.4], [2004.44, 12.4], [2004.7, 3.1], [2004.8, 3.0], [2005.1, 3.7], [2005.2, 2.6], [2005.3, 2.9], [2005.66, 8.6], [2005.9, 2.5], [2006.31, 4.5], [2006.54, 3.1], [2006.73, 4.7], [2006.94, 3.3], [2007.22, 2.6], [2007.3, 2.8], [2007.62, 12.5], [2007.68, 6.2], [2007.95, 2.6], [2008.0, 2.9], [2008.31, 10.2], [2008.63, 4.2], [2008.9, 2.4], [2009.22, 3.1], [2009.3, 3.0], [2009.57, 5.0], [2009.85, 2.6], [2010.02, 2.9], [2010.2, 3.2], [2010.48, 5.4], [2010.6, 6.2], [2010.77, 5.2], [2011.0, 3.7], [2011.28, 3.7], [2011.4, 2.5], [2011.7, 3.5], [2011.74, 2.6], [2011.99, 6.0], [2012.14, 4.2], [2012.2, 2.8], [2012.45, 4.4], [2012.68, 6.1], [2012.79, 9.2], [2013.02, 5.9], [2013.2, 2.5], [2013.28, 4.2], [2013.43, 12.4], [2013.47, 4.2], [2013.7, 3.3], [2013.8, 3.1], [2013.9, 2.4]];

// ---- zeichnen ----
var FONT = "'Open Sans', 'DejaVu Sans', sans-serif";
var BG = '#e6e6e6';
var FLOW_COLOR = '#9b9be6';
var DOT_R = 5.1;
var svg = d3.select('#chart').attr('font-family', FONT);

// regelmässige Probennahme: Zeitpunkt aus Index
function regular(start, perYear, values) {
    return values.map(function (v, i) {
        return [start + (i + 0.5) / perYear, v];
    });
}

function byTime(a, b) {
    return a[0] - b[0];
}

var lorzeFlowSeries = regular(1974, 12, lorzeFlow).concat(regular(1974 - 1 / 24, 12, lorzeFlowMid)).sort(byTime);
var jonenFlowSeries = regular(1994, 12, jonenFlowBase).concat(jonenFlowSpikes).sort(byTime);

var panels = [
    {
        title: 'Rotbach (Inwil)', left: 102.5, right: 1274.3, top: 41, bottom: 343.3,
        points: rotbachP, offscale: rotbachOffscale, flow: null
    },
    {
        title: 'Lorze (Cham)', left: 102.5, right: 1274.3, top: 477.3, bottom: 779.3,
        points: chamP.concat(regular(1992 + 7 / 12, 12, chamWave), regular(1992 + 7 / 12 + 1 / 24, 12, chamWave2)),
        offscale: [],
        flow: lorzeFlowSeries, flowMax: 50, flowTicks: lorzeFlowTicks, flowMinor: 2.5
    },
    {
        title: 'Lorze (Frauental)', left: 108.3, right: 1274.3, top: 914.3, bottom: 1215,
        points: frauentalP.concat(regular(1997, 16, frauentalDense), regular(1997 + 1 / 32, 16, frauentalDense2), frauentalPeaks),
        offscale: frauentalOffscale,
        flow: lorzeFlowSeries, flowMax: 50, flowTicks: lorzeFlowTicks, flowMinor: 2.5
    },
    {
        title: 'Jonen (nach ARA Zwillikon)', left: 108.3, right: 1274.3, top: 1351, bottom: 1651.7,
        points: jonenP.concat(regular(1994, 16, jonenDense), regular(1994 + 1 / 32, 16, jonenDense2), jonenPeaks),
        offscale: jonenOffscale,
        flow: jonenFlowSeries, flowMax: 15, flowTicks: jonenFlowTicks, flowMinor: 1
    }
];

panels.forEach(drawPanel);

function styleAxis(sel, size) {
    sel.attr('font-family', FONT).attr('font-size', size);
    sel.select('.domain').remove();
    sel.selectAll('text').attr('fill', '#000');
    sel.selectAll('line').attr('stroke', '#000');
}

function drawPanel(p) {
    var g = svg.append('g');
    var x = d3.scaleLinear().domain([1974, 2014]).range([p.left, p.right]);
    var y = d3.scaleLinear().domain([0, 1]).range([p.bottom, p.top]);
    var w = p.right - p.left;
    var h = p.bottom - p.top;

    g.append('rect').attr('x', p.left).attr('y', p.top).attr('width', w).attr('height', h).attr('fill', BG);

    // gitter
    g.selectAll('line.vgrid')
        .data(d3.range(1975, 2014))
        .enter()
        .append('line')
        .attr('class', 'vgrid')
        .attr('x1', function (d) { return x(d); })
        .attr('x2', function (d) { return x(d); })
        .attr('y1', p.top)
        .attr('y2', p.bottom)
        .attr('stroke', '#000')
        .attr('stroke-width', 1)
        .attr('stroke-dasharray', '2,2');
    g.selectAll('line.hgrid')
        .data([0.2, 0.4, 0.6, 0.8])
        .enter()
        .append('line')
        .attr('class', 'hgrid')
        .attr('x1', p.left)
        .attr('x2', p.right)
        .attr('y1', function (d) { return y(d); })
        .attr('y2', function (d) { return y(d); })
        .attr('stroke', '#000')
        .attr('stroke-width', 1)
        .attr('stroke-dasharray', '2,2');

    // abfluss
    var yf = null;
    if (p.flow) {
        yf = d3.scaleLinear().domain([0, p.flowMax]).range([p.bottom, p.top]);
        var line = d3.line()
            .x(function (d) { return x(d[0]); })
            .y(function (d) { return yf(d[1]); });
        g.append('path')
            .attr('d', line(p.flow))
            .attr('fill', 'none')
            .attr('stroke', FLOW_COLOR)
            .attr('stroke-width', 1.4);
    }

    // zielvorgabe
    g.append('line')
        .attr('x1', x(1974)).attr('x2', x(2014))
        .attr('y1', y(zielvorgabe)).attr('y2', y(zielvorgabe))
        .attr('stroke', '#ff0000')
        .attr('stroke-width', 2.5);

    // rahmen
    g.append('rect').attr('x', p.left).attr('y', p.top).attr('width', w).attr('height', h)
        .attr('fill', 'none').attr('stroke', '#1a1a1a').attr('stroke-width', 1.8);

    // kleine ticks nach innen
    var minor = d3.range(0, 1.0001, 0.05);
    g.append('g').attr('transform', 'translate(' + p.left + ',0)')
        .call(d3.axisRight(y).tickValues(minor).tickSize(7).tickFormat(''))
        .call(styleAxis, 19.5);
    if (yf) {
        g.append('g').attr('transform', 'translate(' + p.right + ',0)')
            .call(d3.axisLeft(yf).tickValues(d3.range(0, p.flowMax + 0.001, p.flowMinor)).tickSize(7).tickFormat(''))
            .call(styleAxis, 19.5);
    } else {
        g.append('g').attr('transform', 'translate(' + p.right + ',0)')
            .call(d3.axisLeft(y).tickValues(minor).tickSize(7).tickFormat(''))
            .call(styleAxis, 19.5);
    }
    var yearTicks = d3.range(1975, 2014);
    g.append('g').attr('transform', 'translate(0,' + p.top + ')')
        .call(d3.axisBottom(x).tickValues(yearTicks).tickSize(6).tickFormat(''))
        .call(styleAxis, 19.5);
    g.append('g').attr('transform', 'translate(0,' + p.bottom + ')')
        .call(d3.axisTop(x).tickValues(yearTicks).tickSize(6).tickFormat(''))
        .call(styleAxis, 19.5);

    // beschriftungen
    var yl = g.append('g').attr('transform', 'translate(' + p.left + ',0)')
        .call(d3.axisLeft(y).tickValues(phosTicks).tickFormat(d3.format('.1f')).tickSize(0).tickPadding(12))
        .call(styleAxis, 19.5);
    yl.selectAll('text').attr('dy', '0.42em');
    var halfYear = (x(1975) - x(1974)) / 2;
    g.append('g').attr('transform', 'translate(' + halfYear + ',' + p.bottom + ')')
        .call(d3.axisBottom(x).tickValues(tickYears).tickFormat(function (d, i) { return tickLabels[i]; }).tickSize(0).tickPadding(11))
        .call(styleAxis, 19.5);
    if (yf) {
        var yr = g.append('g').attr('transform', 'translate(' + p.right + ',0)')
            .call(d3.axisRight(yf).tickValues(p.flowTicks).tickSize(0).tickPadding(10))
            .call(styleAxis, 19.5);
        yr.selectAll('text').attr('dy', '0.42em');
        var rt = g.append('text')
            .attr('transform', 'translate(' + (p.right + 70) + ',' + ((p.top + p.bottom) / 2) + ') rotate(-90)')
            .attr('text-anchor', 'middle')
            .attr('dominant-baseline', 'central')
            .attr('font-size', 23.5);
        rt.append('tspan').text('Abfluss (Tagesmittel) m');
        rt.append('tspan').attr('dy', -9).attr('font-size', 14).text('3');
        rt.append('tspan').attr('dy', 9).text('/s');
    }
    g.append('text')
        .attr('transform', 'translate(' + (p.left - 84.5) + ',' + ((p.top + p.bottom) / 2) + ') rotate(-90)')
        .attr('text-anchor', 'middle')
        .attr('dominant-baseline', 'central')
        .attr('font-size', 23.5)
        .text('Gesamtphosphor [mg/l P]');

    // punkte
    g.append('g').selectAll('circle')
        .data(p.points)
        .enter()
        .append('circle')
        .attr('cx', function (d) { return x(d[0]); })
        .attr('cy', function (d) { return y(d[1]); })
        .attr('r', DOT_R)
        .attr('fill', '#0000ff');

    // werte ausserhalb der skala
    p.offscale.forEach(function (o) {
        var lg = g.append('g').attr('transform', 'translate(' + x(o[0]) + ',' + (p.top + 4) + ') rotate(-90)');
        var t = lg.append('text')
            .attr('text-anchor', 'end')
            .attr('dy', '0.35em')
            .attr('font-size', 15)
            .text(o[1]);
        var b = t.node().getBBox();
        lg.insert('rect', 'text')
            .attr('x', b.x - 1).attr('y', b.y + 1)
            .attr('width', b.width + 2).attr('height', b.height - 2)
            .attr('fill', BG);
    });

    // titel
    g.append('text')
        .attr('x', p.left)
        .attr('y', p.top - 14.5)
        .attr('font-size', 25)
        .attr('font-weight', 700)
        .text(p.title);

    // legende
    var ly = p.top - 23;
    var redStart = p.flow ? p.right - 441 : p.right - 264;
    g.append('line')
        .attr('x1', redStart).attr('x2', redStart + 60)
        .attr('y1', ly).attr('y2', ly)
        .attr('stroke', '#ff0000').attr('stroke-width', 2.5);
    g.append('text')
        .attr('x', redStart + 87)
        .attr('y', ly)
        .attr('dy', '0.36em')
        .attr('font-size', 21.5)
        .text('Zielvorgabe BAFU');
    if (p.flow) {
        g.append('line')
            .attr('x1', p.right - 138).attr('x2', p.right - 78)
            .attr('y1', ly).attr('y2', ly)
            .attr('stroke', FLOW_COLOR).attr('stroke-width', 1.5);
        g.append('text')
            .attr('x', p.right + 1)
            .attr('y', ly)
            .attr('dy', '0.36em')
            .attr('text-anchor', 'end')
            .attr('font-size', 21.5)
            .text('Abfluss');
    }
}
</script>
</body>
</html>
